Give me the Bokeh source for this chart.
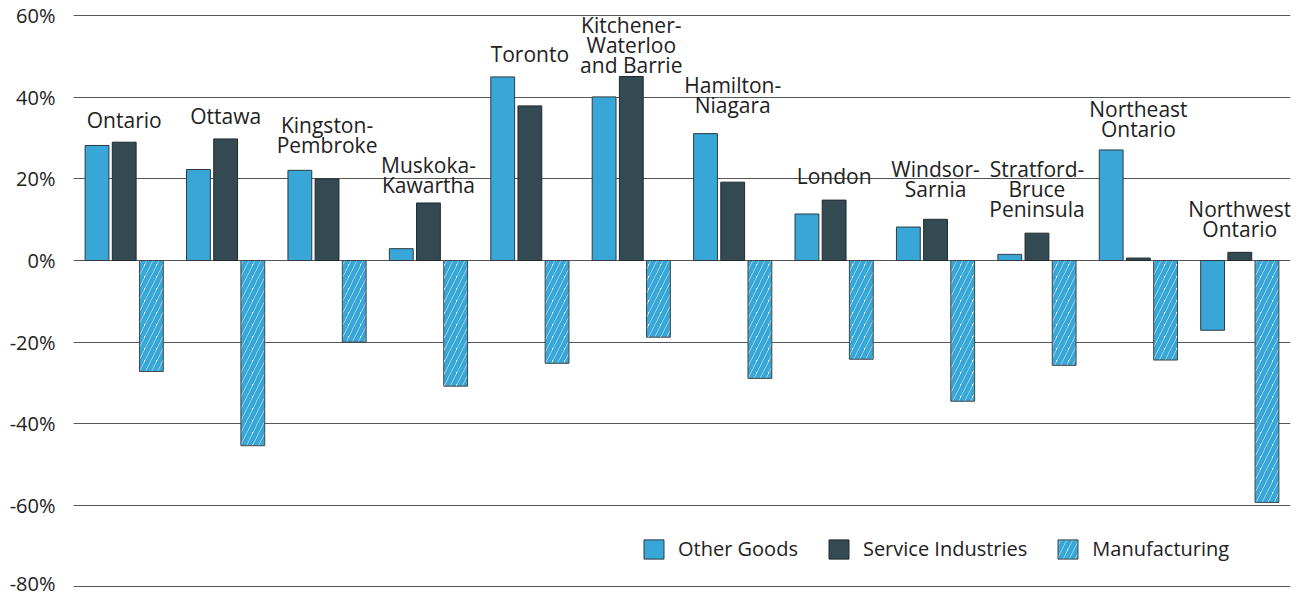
from bokeh.plotting import figure
from bokeh.models import ColumnDataSource, FactorRange, Range1d, PrintfTickFormatter, FixedTicker, Legend, LegendItem
from bokeh.transform import dodge
from bokeh.core.properties import value
from bokeh.embed import file_html
from bokeh.resources import INLINE

regions = ["Ontario", "Ottawa", "Kingston-Pembroke", "Muskoka-Kawartha", "Toronto",
           "Kitchener-Waterloo and Barrie", "Hamilton-Niagara", "London", "Windsor-Sarnia",
           "Stratford-Bruce Peninsula", "Northeast Ontario", "Northwest Ontario"]
region_labels = ["Ontario", "Ottawa", "Kingston-\nPembroke", "Muskoka-\nKawartha", "Toronto",
                 "Kitchener-\nWaterloo\nand Barrie", "Hamilton-\nNiagara", "London", "Windsor-\nSarnia",
                 "Stratford-\nBruce\nPeninsula", "Northeast\nOntario", "Northwest\nOntario"]
other_goods = [28.2, 22.3, 22.1, 2.9, 45.0, 40.1, 31.1, 11.4, 8.2, 1.5, 27.1, -17.1]
service_industries = [29.0, 29.8, 20.0, 14.1, 37.9, 45.1, 19.2, 14.8, 10.1, 6.7, 0.6, 2.0]
manufacturing = [-27.2, -45.4, -20.0, -30.8, -25.2, -18.8, -28.9, -24.2, -34.5, -25.7, -24.4, -59.3]
y_ticks = [-80, -60, -40, -20, 0, 20, 40, 60]

# label anchor heights (layout only)
label_pos = [31.0, 31.9, 24.8, 15.0, 47.1, 44.4, 34.6, 17.2, 14.0, 9.1, 28.7, 4.2]

src = ColumnDataSource(dict(region=regions, label=region_labels, other=other_goods,
                            service=service_industries, manuf=manufacturing, lpos=label_pos))

FONT = "Open Sans"
TXT = "#222222"
BLUE = "#38a7d7"
DARK = "#334a53"

p = figure(x_range=FactorRange(factors=regions, range_padding=0), y_range=Range1d(-80.4, 60.3),
           width=1292, height=596, output_backend="svg", toolbar_location=None,
           x_axis_location=None,
           min_border_left=73, min_border_right=2, min_border_top=14, min_border_bottom=8)
p.outline_line_color = None
p.xgrid.grid_line_color = None
p.ygrid.ticker = FixedTicker(ticks=y_ticks)
p.ygrid.grid_line_color = "#555555"
p.ygrid.grid_line_width = 1
p.yaxis.ticker = FixedTicker(ticks=y_ticks)
p.yaxis.formatter = PrintfTickFormatter(format="%d%%")
p.yaxis.axis_line_color = None
p.yaxis.major_tick_line_color = None
p.yaxis.minor_tick_line_color = None
p.yaxis.major_label_standoff = 12
p.yaxis.major_label_text_font = FONT
p.yaxis.major_label_text_font_size = "20px"
p.yaxis.major_label_text_color = TXT

W = 0.235
r1 = p.vbar(x=dodge("region", -0.268, range=p.x_range), top="other", bottom=0, width=W,
            source=src, fill_color=BLUE, line_color="#2f3a40", line_width=1)
r2 = p.vbar(x=dodge("region", 0.0, range=p.x_range), top="service", bottom=0, width=W,
            source=src, fill_color=DARK, line_color="#222a2e", line_width=1)
r3 = p.vbar(x=dodge("region", 0.268, range=p.x_range), top="manuf", bottom=0, width=W,
            source=src, fill_color="white", line_color="#444444", line_width=1,
            hatch_pattern="right_diagonal_line", hatch_color=BLUE, hatch_weight=5.0, hatch_scale=12)

p.text(x="region", y="lpos", text="label", source=src, text_align="center", text_baseline="bottom",
       text_font=value(FONT), text_font_size="21px", text_color=TXT, text_line_height=0.72)

legend = Legend(items=[LegendItem(label="Other Goods", renderers=[r1]),
                       LegendItem(label="Service Industries", renderers=[r2]),
                       LegendItem(label="Manufacturing", renderers=[r3])],
                orientation="horizontal", location=(568, 26))
legend.glyph_width = 25
legend.glyph_height = 24
legend.label_standoff = 12
legend.spacing = 28
legend.padding = 0
legend.margin = 0
legend.border_line_color = None
legend.background_fill_alpha = 0
legend.label_text_font = FONT
legend.label_text_font_size = "20px"
legend.label_text_color = TXT
p.add_layout(legend)

open("out.html", "w").write(file_html(p, INLINE))
